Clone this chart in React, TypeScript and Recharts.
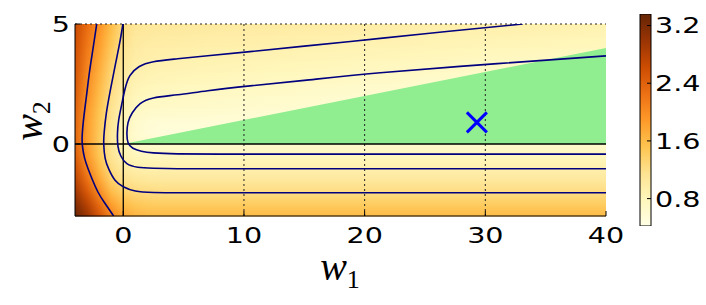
import React from 'react';
import { ComposedChart, XAxis, YAxis, ReferenceArea, ReferenceLine, Line, Area, Scatter, Bar } from 'recharts';

// ---- data ----
const W1_NODES = [-4, -3, -2, -1, 0, 1, 2, 3, 5, 8, 12, 20, 30, 40];
const W2_NODES = [5, 4.5, 4, 3.5, 3, 2.5, 2, 1.5, 1, 0.5, 0, -0.5, -1, -1.5, -2, -2.5, -3];
// loss estimated at (W2_NODES[row], W1_NODES[col])
const LOSS_GRID = [
  [2.66, 2.3, 1.96, 1.6, 1.25, 1.1, 1.07, 1.06, 1.04, 1.02, 1.0, 0.97, 0.93, 0.88],
  [2.62, 2.24, 1.9, 1.53, 1.2, 1.05, 1.02, 1.01, 0.99, 0.97, 0.95, 0.91, 0.87, 0.83],
  [2.59, 2.18, 1.84, 1.46, 1.15, 1.0, 0.97, 0.96, 0.94, 0.92, 0.9, 0.86, 0.81, 0.77],
  [2.56, 2.12, 1.77, 1.39, 1.1, 0.96, 0.93, 0.91, 0.89, 0.87, 0.85, 0.8, 0.74, 0.71],
  [2.53, 2.06, 1.7, 1.32, 1.05, 0.91, 0.88, 0.86, 0.84, 0.82, 0.79, 0.74, 0.67, 0.64],
  [2.5, 2.01, 1.64, 1.26, 1.0, 0.86, 0.82, 0.8, 0.78, 0.76, 0.73, 0.67, 0.61, 0.59],
  [2.46, 1.96, 1.58, 1.2, 0.95, 0.8, 0.76, 0.74, 0.72, 0.7, 0.67, 0.61, 0.57, 0.56],
  [2.42, 1.91, 1.53, 1.15, 0.9, 0.74, 0.7, 0.68, 0.66, 0.64, 0.62, 0.57, 0.55, 0.55],
  [2.38, 1.87, 1.49, 1.11, 0.86, 0.66, 0.6, 0.58, 0.57, 0.56, 0.55, 0.55, 0.55, 0.56],
  [2.36, 1.85, 1.46, 1.08, 0.82, 0.62, 0.55, 0.52, 0.52, 0.53, 0.55, 0.56, 0.57, 0.58],
  [2.38, 1.86, 1.45, 1.08, 0.83, 0.66, 0.63, 0.62, 0.62, 0.63, 0.63, 0.63, 0.63, 0.63],
  [2.46, 1.93, 1.5, 1.13, 0.89, 0.8, 0.78, 0.78, 0.78, 0.78, 0.78, 0.78, 0.78, 0.78],
  [2.6, 2.08, 1.62, 1.23, 1.02, 0.94, 0.92, 0.91, 0.91, 0.91, 0.91, 0.91, 0.91, 0.91],
  [2.76, 2.27, 1.8, 1.38, 1.18, 1.1, 1.07, 1.06, 1.06, 1.06, 1.06, 1.06, 1.06, 1.06],
  [2.96, 2.5, 2.03, 1.6, 1.38, 1.28, 1.25, 1.24, 1.24, 1.24, 1.24, 1.24, 1.24, 1.24],
  [3.17, 2.76, 2.3, 1.85, 1.58, 1.47, 1.43, 1.42, 1.42, 1.42, 1.42, 1.42, 1.42, 1.42],
  [3.36, 3.0, 2.55, 2.1, 1.8, 1.66, 1.61, 1.6, 1.6, 1.6, 1.6, 1.6, 1.6, 1.6],
];

const CONTOUR_OUTER = [
  { w1: -2.2, w2: 5 }, { w1: -2.5, w2: 4 }, { w1: -2.8, w2: 3 }, { w1: -3.05, w2: 2 },
  { w1: -3.25, w2: 1.2 }, { w1: -3.4, w2: 0.4 }, { w1: -3.38, w2: -0.1 }, { w1: -3.2, w2: -0.6 },
  { w1: -2.9, w2: -1.05 }, { w1: -2.55, w2: -1.5 }, { w1: -2.1, w2: -2.0 }, { w1: -1.55, w2: -2.45 },
  { w1: -0.8, w2: -3 },
];
const CONTOUR_MID = [
  { w1: -0.03, w2: 5 }, { w1: -0.3, w2: 4.2 }, { w1: -0.66, w2: 3.3 }, { w1: -1.05, w2: 2.3 },
  { w1: -1.4, w2: 1.3 }, { w1: -1.58, w2: 0.5 }, { w1: -1.62, w2: 0 }, { w1: -1.5, w2: -0.6 },
  { w1: -1.2, w2: -1.05 }, { w1: -0.7, w2: -1.5 }, { w1: 0, w2: -1.78 }, { w1: 1, w2: -1.96 },
  { w1: 2.5, w2: -2.02 }, { w1: 5, w2: -2.03 }, { w1: 10, w2: -2.03 }, { w1: 18, w2: -2.03 },
  { w1: 28, w2: -2.03 }, { w1: 40, w2: -2.03 },
];
const CONTOUR_U_OUTER = [
  { w1: 33.1, w2: 5 }, { w1: 27, w2: 4.7 }, { w1: 21.3, w2: 4.4 }, { w1: 15, w2: 4.08 },
  { w1: 10.5, w2: 3.85 }, { w1: 7, w2: 3.68 }, { w1: 4.5, w2: 3.55 }, { w1: 2.5, w2: 3.43 },
  { w1: 1.3, w2: 3.22 }, { w1: 0.55, w2: 2.85 }, { w1: 0.15, w2: 2.3 }, { w1: -0.15, w2: 1.6 },
  { w1: -0.38, w2: 1.0 }, { w1: -0.48, w2: 0.45 }, { w1: -0.44, w2: -0.1 }, { w1: -0.2, w2: -0.5 },
  { w1: 0.3, w2: -0.82 }, { w1: 1.2, w2: -0.97 }, { w1: 2.5, w2: -1.01 }, { w1: 4.5, w2: -1.03 },
  { w1: 8, w2: -1.03 }, { w1: 14, w2: -1.03 }, { w1: 22, w2: -1.03 }, { w1: 31, w2: -1.03 },
  { w1: 40, w2: -1.03 },
];
const CONTOUR_U_INNER = [
  { w1: 40, w2: 3.67 }, { w1: 31, w2: 3.35 }, { w1: 21.3, w2: 2.97 }, { w1: 15, w2: 2.65 },
  { w1: 10.5, w2: 2.42 }, { w1: 7, w2: 2.22 }, { w1: 4.5, w2: 2.05 }, { w1: 2.5, w2: 1.92 },
  { w1: 1.4, w2: 1.68 }, { w1: 0.75, w2: 1.3 }, { w1: 0.4, w2: 0.9 }, { w1: 0.3, w2: 0.45 },
  { w1: 0.4, w2: 0.05 }, { w1: 0.8, w2: -0.18 }, { w1: 1.5, w2: -0.3 }, { w1: 2.5, w2: -0.37 },
  { w1: 4.5, w2: -0.41 }, { w1: 8, w2: -0.42 }, { w1: 14, w2: -0.42 }, { w1: 22, w2: -0.42 },
  { w1: 31, w2: -0.42 }, { w1: 40, w2: -0.42 },
];
const CONTOURS = [CONTOUR_OUTER, CONTOUR_MID, CONTOUR_U_OUTER, CONTOUR_U_INNER];

// feasible wedge between w2 = 0 and w2 = 0.1 * w1
const FEASIBLE = [
  { w1: 0, band: [0, 0] },
  { w1: 40, band: [0, 4] },
];
const SOLUTION = [{ w1: 29.3, w2: 0.9 }];

const X_DOMAIN = [-4, 40];
const Y_DOMAIN = [-3, 5];
const X_TICKS = [0, 10, 20, 30, 40];
const Y_TICKS = [0, 5];
const GRID_X = [10, 20, 30];
const CBAR_MIN = 0.42;
const CBAR_MAX = 3.36;
const CBAR_TICKS = [0.8, 1.6, 2.4, 3.2];
const CBAR_DATA = [{ name: 'loss', range: [CBAR_MIN, CBAR_MAX] }];

// matplotlib YlOrBr
const YLORBR = ['#ffffe5', '#fff7bc', '#fee391', '#fec44f', '#fe9929', '#ec7014', '#cc4c02', '#993404', '#662506'];

const TICK_FONT = '"DejaVu Sans", sans-serif';
const STRETCH = 1.3;

function hexRgb(h: string) {
  return [1, 3, 5].map((i) => parseInt(h.slice(i, i + 2), 16));
}

function colorFor(v: number) {
  const n = YLORBR.length - 1;
  const t = Math.min(1, Math.max(0, (v - CBAR_MIN) / (CBAR_MAX - CBAR_MIN))) * n;
  const i = Math.min(Math.floor(t), n - 1);
  const f = t - i;
  const a = hexRgb(YLORBR[i]);
  const b = hexRgb(YLORBR[i + 1]);
  const c = a.map((av, k) => Math.round(av + (b[k] - av) * f));
  return `rgb(${c[0]},${c[1]},${c[2]})`;
}

function Defs() {
  const span = X_DOMAIN[1] - X_DOMAIN[0];
  return (
    <svg width={0} height={0} style={{ position: 'absolute' }}>
      <defs>
        {LOSS_GRID.map((row, r) => (
          <linearGradient key={r} id={`heat-row-${r}`} x1="0" y1="0" x2="1" y2="0">
            {row.map((v, c) => (
              <stop key={c} offset={(W1_NODES[c] - X_DOMAIN[0]) / span} stopColor={colorFor(v)} />
            ))}
          </linearGradient>
        ))}
        <linearGradient id="fade-down" x1="0" y1="0" x2="0" y2="1">
          <stop offset="0" stopColor="#fff" stopOpacity={1} />
          <stop offset="1" stopColor="#fff" stopOpacity={0} />
        </linearGradient>
        <mask id="fade-mask" maskContentUnits="objectBoundingBox" style={{ maskType: 'alpha' } as any}>
          <rect x={0} y={0} width={1} height={1} fill="url(#fade-down)" />
        </mask>
        <linearGradient id="cbar" x1="0" y1="1" x2="0" y2="0">
          {YLORBR.map((c, i) => (
            <stop key={i} offset={i / (YLORBR.length - 1)} stopColor={c} />
          ))}
        </linearGradient>
      </defs>
    </svg>
  );
}

// one band between two grid rows, shaded between the two row gradients
function HeatBand(props: any) {
  const { x, y, width, height, upper, lower } = props;
  if (width == null || height == null) return null;
  return (
    <g>
      <rect x={x} y={y} width={width} height={height + 0.5} fill={`url(#heat-row-${lower})`} />
      <rect x={x} y={y} width={width} height={height + 0.5} fill={`url(#heat-row-${upper})`} mask="url(#fade-mask)" />
    </g>
  );
}

function NumTick(props: any) {
  const { x, y, payload, textAnchor, vdy, digits } = props;
  const label = digits ? Number(payload.value).toFixed(digits) : String(payload.value);
  return (
    <text
      transform={`translate(${x},${y}) scale(${STRETCH},1)`}
      textAnchor={textAnchor}
      dy={vdy}
      fontFamily={TICK_FONT}
      fontSize={22}
      fill="#000"
    >
      {label}
    </text>
  );
}

function Cross(props: any) {
  const { cx, cy } = props;
  const r = 10;
  return (
    <g stroke="#0000ff" strokeWidth={3}>
      <line x1={cx - r} y1={cy - r} x2={cx + r} y2={cy + r} />
      <line x1={cx - r} y1={cy + r} x2={cx + r} y2={cy - r} />
    </g>
  );
}

const layer: React.CSSProperties = { position: 'absolute', left: 0, top: 0, width: 706, height: 305 };

export default function App() {
  return (
    <div style={{ position: 'relative', width: 706, height: 305, background: '#fff' }}>
      <style>{'body{margin:0}'}</style>
      <Defs />
      <div style={layer}>
        <ComposedChart width={706} height={305} margin={{ top: 24, right: 100, bottom: 0, left: 25 }}>
          <XAxis
            dataKey="w1"
            type="number"
            domain={X_DOMAIN}
            ticks={X_TICKS}
            allowDataOverflow
            height={89}
            tickSize={-5}
            tickMargin={16}
            stroke="#000"
            tick={(p: any) => <NumTick {...p} vdy="0.71em" />}
          />
          <XAxis
            xAxisId="top"
            orientation="top"
            type="number"
            domain={X_DOMAIN}
            ticks={X_TICKS}
            allowDataOverflow
            height={0}
            tickSize={-5}
            stroke="#000"
            tick={false}
          />
          <YAxis
            dataKey="w2"
            type="number"
            domain={Y_DOMAIN}
            ticks={Y_TICKS}
            allowDataOverflow
            width={50}
            tickSize={-5}
            tickMargin={10}
            stroke="#000"
            tick={(p: any) => <NumTick {...p} vdy="0.36em" />}
          />
          <YAxis
            yAxisId="right"
            orientation="right"
            type="number"
            domain={Y_DOMAIN}
            ticks={Y_TICKS}
            allowDataOverflow
            width={0}
            tickSize={-5}
            stroke="#000"
            tick={false}
          />

          {W2_NODES.slice(0, -1).map((top, r) => (
            <ReferenceArea
              key={`band-${r}`}
              x1={X_DOMAIN[0]}
              x2={X_DOMAIN[1]}
              y1={W2_NODES[r + 1]}
              y2={top}
              ifOverflow="visible"
              shape={(p: any) => <HeatBand {...p} upper={r} lower={r + 1} />}
            />
          ))}

          <Area
            data={FEASIBLE}
            dataKey="band"
            type="linear"
            stroke="none"
            fill="#90ee90"
            fillOpacity={1}
            isAnimationActive={false}
          />

          {GRID_X.map((v) => (
            <ReferenceLine key={`gx-${v}`} x={v} stroke="#222" strokeWidth={1} strokeDasharray="2 3" />
          ))}
          <ReferenceLine y={5} stroke="#222" strokeWidth={1} strokeDasharray="2 3" />
          <ReferenceLine x={0} stroke="#000" strokeWidth={1.3} />
          <ReferenceLine y={0} stroke="#000" strokeWidth={1.3} />

          {CONTOURS.map((c, i) => (
            <Line
              key={`c-${i}`}
              data={c}
              dataKey="w2"
              type="natural"
              stroke="#00007f"
              strokeWidth={1.6}
              dot={false}
              activeDot={false}
              isAnimationActive={false}
            />
          ))}

          <Scatter data={SOLUTION} shape={(p: any) => <Cross {...p} />} isAnimationActive={false} />
        </ComposedChart>
      </div>

      <div style={layer}>
        <ComposedChart
          width={706}
          height={305}
          data={CBAR_DATA}
          margin={{ top: 14, right: 0, bottom: 79, left: 640 }}
          barCategoryGap={0}
        >
          <XAxis dataKey="name" type="category" hide />
          <YAxis
            orientation="right"
            type="number"
            domain={[CBAR_MIN, CBAR_MAX]}
            ticks={CBAR_TICKS}
            allowDataOverflow
            width={55}
            axisLine={false}
            tickSize={-4}
            tickMargin={8}
            stroke="#000"
            tick={(p: any) => <NumTick {...p} vdy="0.36em" digits={1} />}
          />
          <Bar dataKey="range" fill="url(#cbar)" stroke="#000" strokeWidth={1} isAnimationActive={false} />
        </ComposedChart>
      </div>

      <svg width={706} height={305} style={{ ...layer, pointerEvents: 'none' }}>
        <text x={340} y={280} textAnchor="middle" fontFamily='"Liberation Serif", serif' fill="#000">
          <tspan fontSize={40} fontStyle="italic">w</tspan>
          <tspan fontSize={26} dy={8}>1</tspan>
        </text>
        <text
          transform="translate(42,121) rotate(-90)"
          textAnchor="middle"
          fontFamily='"Liberation Serif", serif'
          fill="#000"
        >
          <tspan fontSize={40} fontStyle="italic">w</tspan>
          <tspan fontSize={26} dy={8}>2</tspan>
        </text>
      </svg>
    </div>
  );
}
